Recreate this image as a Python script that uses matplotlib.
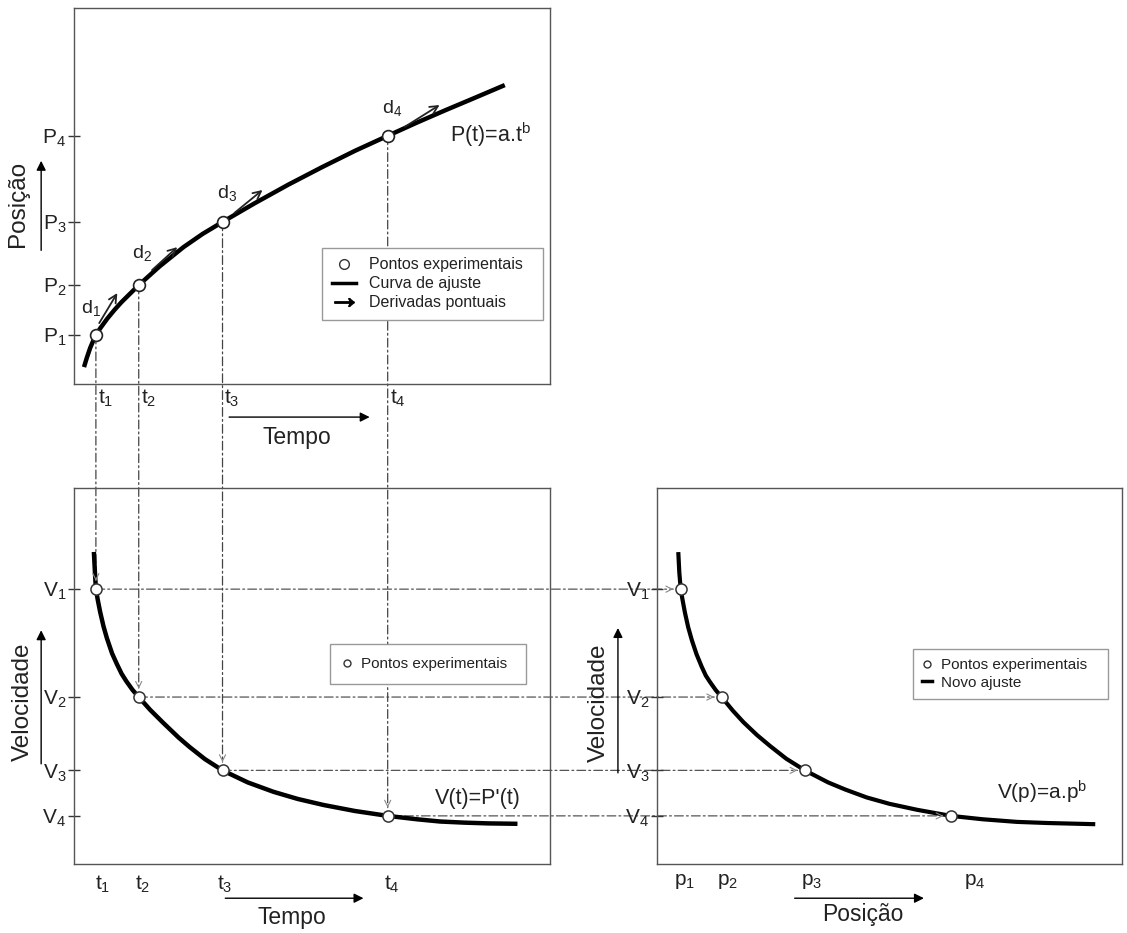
import matplotlib
matplotlib.use("Agg")
import matplotlib.pyplot as plt
from matplotlib.lines import Line2D
from matplotlib.patches import ConnectionPatch

plt.rcParams["font.family"] = ["Liberation Sans", "DejaVu Sans"]
plt.rcParams["mathtext.fontset"] = "custom"
plt.rcParams["mathtext.rm"] = "Liberation Sans"
plt.rcParams["mathtext.it"] = "Liberation Sans"
plt.rcParams["mathtext.default"] = "regular"

# pontos experimentais (unidades arbitrárias, eixos 0-100)
t_pts = [4.6, 13.6, 31.2, 65.9]
P_pts = [13.0, 26.3, 43.1, 66.0]
V_pts = [73.1, 44.4, 24.9, 12.8]
p_pts = [5.1, 13.9, 31.8, 63.2]

# curva de ajuste P(t)=a.t^b
curve_t = [2.1, 2.7, 3.4, 4.0, 4.6, 5.5, 7.0, 8.5, 10.0, 12.0, 13.6, 18.0, 23.0, 27.0,
           31.2, 38.0, 45.0, 52.0, 59.0, 65.9, 72.0, 78.0, 84.0, 90.5]
curve_P = [4.5, 7.0, 9.6, 11.4, 13.0, 14.8, 17.4, 19.7, 21.8, 24.3, 26.3, 31.3, 36.4, 39.9,
           43.1, 48.1, 53.0, 57.6, 62.0, 66.0, 69.5, 72.8, 76.0, 79.5]

# V(t)=P'(t)
curve_vt_t = [4.2, 4.4, 4.6, 5.0, 5.5, 6.2, 6.9, 8.0, 9.0, 10.0, 11.0, 12.3, 13.6, 16.0,
              18.7, 22.0, 24.3, 27.5, 31.2, 36.5, 41.9, 47.0, 52.4, 59.0, 65.9, 72.0,
              76.9, 82.0, 87.0, 92.7]
curve_vt_v = [82.4, 77.5, 73.1, 70.2, 67.0, 63.2, 60.1, 56.0, 53.2, 50.6, 48.6, 46.3, 44.4,
              41.0, 37.6, 33.6, 31.1, 27.9, 24.9, 21.7, 19.2, 17.3, 15.7, 14.1, 12.8, 11.9,
              11.3, 11.0, 10.8, 10.7]

# V(p)=a.p^b
curve_vp_p = [4.6, 4.8, 5.1, 5.5, 6.0, 6.7, 7.5, 8.5, 9.6, 10.5, 11.4, 12.6, 13.9, 16.3,
              18.6, 21.5, 24.3, 27.8, 31.8, 36.8, 40.5, 45.1, 50.0, 56.0, 63.2, 70.0,
              77.4, 84.0, 93.8]
curve_vp_v = [82.4, 77.5, 73.1, 70.2, 66.9, 63.0, 59.5, 55.8, 52.5, 50.1, 48.4, 46.3, 44.4,
              40.8, 37.7, 34.3, 31.4, 28.0, 24.9, 21.7, 19.8, 17.7, 16.0, 14.4, 12.8, 11.9,
              11.2, 10.9, 10.6]

# derivadas pontuais (setas tangentes): início e fim
deriv_start = [(5.3, 16.2), (16.4, 30.3), (33.7, 45.5), (69.5, 68.4)]
deriv_end = [(9.1, 24.2), (21.7, 36.4), (39.6, 51.6), (76.8, 74.2)]
deriv_label_pos = [(3.6, 20.2), (14.3, 34.8), (32.1, 50.8), (66.8, 73.4)]

P_labels = ["$P_1$", "$P_2$", "$P_3$", "$P_4$"]
t_labels = ["$t_1$", "$t_2$", "$t_3$", "$t_4$"]
V_labels = ["$V_1$", "$V_2$", "$V_3$", "$V_4$"]
p_labels = ["$p_1$", "$p_2$", "$p_3$", "$p_4$"]
d_labels = ["$d_1$", "$d_2$", "$d_3$", "$d_4$"]

t_tick_top = [6.7, 15.6, 33.1, 68.0]
t_tick_bot = [6.1, 14.5, 31.7, 66.7]
p_tick = [6.0, 15.1, 33.3, 68.4]

TXT = "#222222"
FRAME = "#555555"
DASH = (0, (7, 2.5, 1.5, 2.5))
ARROW = dict(arrowstyle="-|>", color="black", lw=1, mutation_scale=14)

W, H = 1127, 933
fig = plt.figure(figsize=(W / 100, H / 100), dpi=100)
fig.patch.set_facecolor("white")


def px_axes(l, t, r, b):
    ax = fig.add_axes([l / W, 1 - b / H, (r - l) / W, (b - t) / H])
    ax.set_xlim(0, 100)
    ax.set_ylim(0, 100)
    ax.set_facecolor("none")
    for s in ax.spines.values():
        s.set_color(FRAME)
        s.set_linewidth(1.0)
    ax.tick_params(axis="y", direction="inout", length=9, width=1, color="#333333",
                   pad=1, labelsize=15, labelcolor=TXT)
    ax.tick_params(axis="x", length=0, labelsize=15, labelcolor=TXT)
    return ax


ax_bg = fig.add_axes([0, 0, 1, 1], zorder=-1)
ax_bg.axis("off")

ax_top = px_axes(74, 8, 550, 384)
ax_bl = px_axes(74, 488, 550, 864)
ax_br = px_axes(657, 488, 1122, 864)

# ---- painel superior: posição x tempo
ax_top.plot(curve_t, curve_P, color="black", lw=3.2, solid_capstyle="butt", zorder=3)
ax_top.plot(t_pts, P_pts, ls="none", marker="o", ms=8.5, mfc="white", mec="#222222",
            mew=1.2, zorder=4)
for (x0, y0), (x1, y1) in zip(deriv_start, deriv_end):
    ax_top.annotate("", xy=(x1, y1), xytext=(x0, y0),
                    arrowprops=dict(arrowstyle="->", lw=1.3, color="#222222",
                                    mutation_scale=14, shrinkA=0, shrinkB=0), zorder=5)
for (x, y), lab in zip(deriv_label_pos, d_labels):
    ax_top.text(x, y, lab, fontsize=14, color=TXT, ha="center", va="center")
ax_top.text(78.9, 66.2, "P(t)=a.t$^b$", fontsize=15.5, color=TXT, va="center")
ax_top.set_yticks(P_pts, P_labels)
ax_top.set_xticks(t_tick_top, t_labels)
ax_top.tick_params(axis="x", pad=3)

ax_top.legend(
    [Line2D([], [], ls="none", marker="o", ms=7, mfc="white", mec="#333333", mew=1),
     Line2D([], [], color="black", lw=2.5),
     Line2D([], [], ls="none", marker=r"$\rightarrow$", ms=14, color="black")],
    ["Pontos experimentais", "Curva de ajuste", "Derivadas pontuais"],
    loc="upper left", bbox_to_anchor=(0.522, 0.17, 0.463, 0.192), mode="expand",
    fontsize=11.5, fancybox=False, edgecolor="#999999", framealpha=1,
    handlelength=1.5, handletextpad=0.8, labelspacing=0.25, borderpad=0.6,
    borderaxespad=0, labelcolor=TXT)

ax_top.text(-0.118, 0.479, "Posição", transform=ax_top.transAxes, rotation=90,
            ha="center", va="center", fontsize=17.5, color=TXT)
ax_top.annotate("", xy=(-0.069, 0.601), xytext=(-0.069, 0.348), xycoords="axes fraction",
                arrowprops=ARROW, annotation_clip=False)
ax_top.text(0.469, -0.141, "Tempo", transform=ax_top.transAxes, ha="center",
            va="center", fontsize=16.5, color=TXT)
ax_top.annotate("", xy=(0.627, -0.088), xytext=(0.32, -0.088), xycoords="axes fraction",
                arrowprops=ARROW, annotation_clip=False)

# ---- painel inferior esquerdo: velocidade x tempo
ax_bl.plot(curve_vt_t, curve_vt_v, color="black", lw=3.2, zorder=3)
ax_bl.plot(t_pts, V_pts, ls="none", marker="o", ms=8, mfc="white", mec="#333333",
           mew=1.1, zorder=4)
ax_bl.text(75.9, 17.3, "V(t)=P'(t)", fontsize=15.5, color=TXT, va="center")
ax_bl.set_yticks(V_pts, V_labels)
ax_bl.set_xticks(t_tick_bot, t_labels)
ax_bl.tick_params(axis="x", pad=7)
ax_bl.legend(
    [Line2D([], [], ls="none", marker="o", ms=5, mfc="white", mec="#333333", mew=1)],
    ["Pontos experimentais"],
    loc="upper left", bbox_to_anchor=(0.537, 0.485, 0.413, 0.099), mode="expand",
    fontsize=11, fancybox=False, edgecolor="#999999", framealpha=1,
    handlelength=0.6, handletextpad=0.6, borderpad=0.85, borderaxespad=0,
    labelcolor=TXT)
ax_bl.text(-0.107, 0.432, "Velocidade", transform=ax_bl.transAxes, rotation=90,
           ha="center", va="center", fontsize=17.5, color=TXT)
ax_bl.annotate("", xy=(-0.069, 0.629), xytext=(-0.069, 0.259), xycoords="axes fraction",
               arrowprops=ARROW, annotation_clip=False)
ax_bl.text(0.457, -0.141, "Tempo", transform=ax_bl.transAxes, ha="center",
           va="center", fontsize=16.5, color=TXT)
ax_bl.annotate("", xy=(0.614, -0.091), xytext=(0.312, -0.091), xycoords="axes fraction",
               arrowprops=ARROW, annotation_clip=False)

# ---- painel inferior direito: velocidade x posição
ax_br.plot(curve_vp_p, curve_vp_v, color="black", lw=3.0, zorder=3)
ax_br.plot(p_pts, V_pts, ls="none", marker="o", ms=8, mfc="white", mec="#333333",
           mew=1.1, zorder=4)
ax_br.text(73.1, 19.0, "V(p)=a.p$^b$", fontsize=15, color=TXT, va="center")
ax_br.set_yticks(V_pts, V_labels)
ax_br.set_xticks(p_tick, p_labels)
ax_br.tick_params(axis="x", pad=6)
ax_br.legend(
    [Line2D([], [], ls="none", marker="o", ms=5, mfc="white", mec="#333333", mew=1),
     Line2D([], [], color="black", lw=2.5)],
    ["Pontos experimentais", "Novo ajuste"],
    loc="upper left", bbox_to_anchor=(0.551, 0.44, 0.419, 0.131), mode="expand",
    fontsize=11, fancybox=False, edgecolor="#999999", framealpha=1,
    handlelength=0.6, handletextpad=0.6, labelspacing=0.2, borderpad=0.6,
    borderaxespad=0, labelcolor=TXT)
ax_br.text(-0.125, 0.429, "Velocidade", transform=ax_br.transAxes, rotation=90,
           ha="center", va="center", fontsize=17.5, color=TXT)
ax_br.annotate("", xy=(-0.084, 0.635), xytext=(-0.084, 0.235), xycoords="axes fraction",
               arrowprops=ARROW, annotation_clip=False)
ax_br.text(0.443, -0.133, "Posição", transform=ax_br.transAxes, ha="center",
           va="center", fontsize=16.5, color=TXT)
ax_br.annotate("", xy=(0.58, -0.091), xytext=(0.29, -0.091), xycoords="axes fraction",
               arrowprops=ARROW, annotation_clip=False)

# ---- linhas de ligação (traço-ponto) entre os painéis
for t, P, V, p in zip(t_pts, P_pts, V_pts, p_pts):
    con_v = ConnectionPatch(xyA=(t, P), coordsA="data", axesA=ax_top,
                            xyB=(t, V + 2.2), coordsB="data", axesB=ax_bl,
                            color="#444444", lw=0.9, linestyle=DASH)
    ax_bg.add_artist(con_v)
    con_h = ConnectionPatch(xyA=(t, V), coordsA="data", axesA=ax_bl,
                            xyB=(p - 1.6, V), coordsB="data", axesB=ax_br,
                            color="#555555", lw=0.9, linestyle=DASH)
    ax_bg.add_artist(con_h)
    ax_bl.annotate("", xy=(t, V + 2.2), xytext=(t, V + 2.6),
                   arrowprops=dict(arrowstyle="->", color="#888888", lw=0.8,
                                   mutation_scale=11, shrinkA=0, shrinkB=0))
    ax_br.annotate("", xy=(p - 1.6, V), xytext=(p - 1.9, V),
                   arrowprops=dict(arrowstyle="->", color="#888888", lw=0.8,
                                   mutation_scale=11, shrinkA=0, shrinkB=0))

fig.savefig("out.png", dpi=100, facecolor="white")
